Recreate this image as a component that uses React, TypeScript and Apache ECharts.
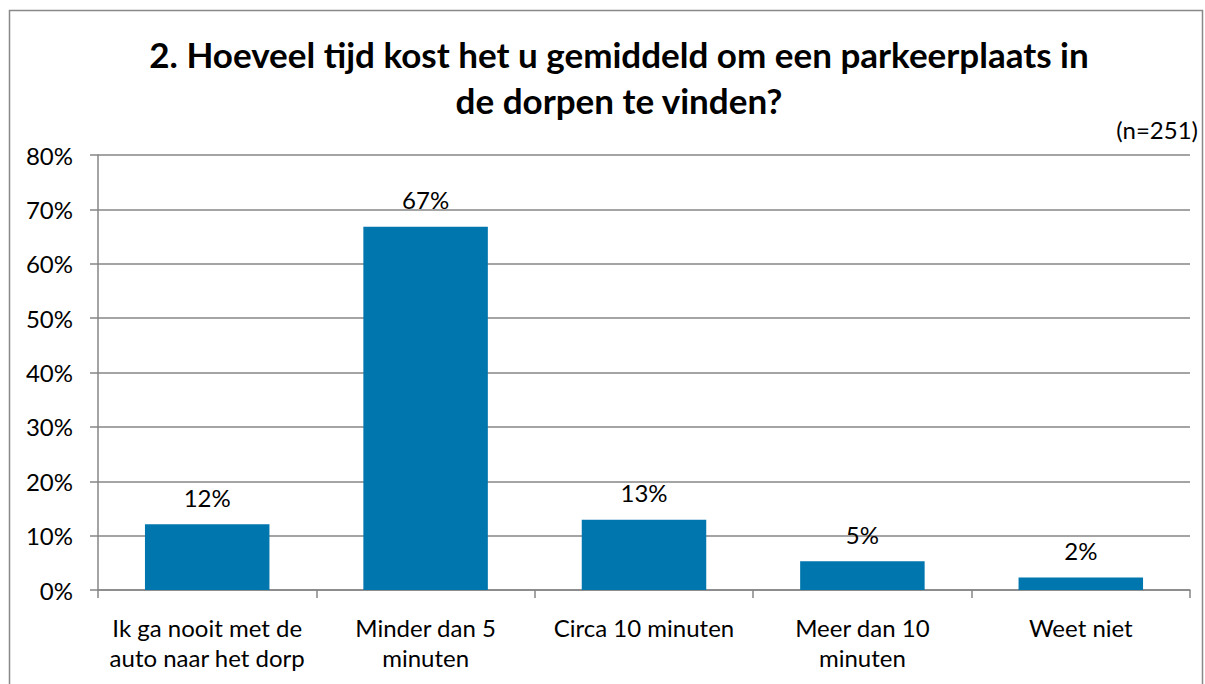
import React, { useEffect, useRef } from "react";
import * as echarts from "echarts";

const categories = [
  "Ik ga nooit met de\nauto naar het dorp",
  "Minder dan 5\nminuten",
  "Circa 10 minuten",
  "Meer dan 10\nminuten",
  "Weet niet",
];
const values = [12.1, 66.8, 12.9, 5.3, 2.3];
const valueLabels = ["12%", "67%", "13%", "5%", "2%"];
const titleText = "2. Hoeveel tijd kost het u gemiddeld om een parkeerplaats in\nde dorpen te vinden?";
const noteText = "(n=251)";

const FONT = "Lato, 'Noto Sans', sans-serif";

export default function App() {
  const ref = useRef<HTMLDivElement>(null);
  useEffect(() => {
    const chart = echarts.init(ref.current!, undefined, { renderer: "svg" });
    chart.setOption({
      animation: false,
      backgroundColor: "#ffffff",
      title: {
        text: titleText,
        left: 614,
        top: 26,
        textAlign: "center",
        textStyle: {
          fontFamily: FONT,
          fontWeight: "bold",
          fontSize: 35,
          lineHeight: 46,
          color: "#000000",
        },
      },
      graphic: [
        {
          type: "rect",
          shape: { x: 9.5, y: 10.5, width: 1193, height: 720 },
          style: { fill: "none", stroke: "#898989", lineWidth: 1.5 },
          silent: true,
        },
        {
          type: "text",
          right: 7,
          top: 117,
          style: { text: noteText, fontFamily: FONT, fontSize: 24, fill: "#000000" },
        },
      ],
      grid: { left: 98, right: 15, top: 155, bottom: 94, containLabel: false },
      xAxis: {
        type: "category",
        data: categories,
        axisLine: { lineStyle: { color: "#868686", width: 1.5 } },
        axisTick: { show: true, length: 8, lineStyle: { color: "#868686", width: 1.5 } },
        axisLabel: {
          fontFamily: FONT,
          fontSize: 24,
          color: "#000000",
          lineHeight: 30,
          margin: 22,
          interval: 0,
        },
      },
      yAxis: {
        type: "value",
        min: 0,
        max: 80,
        interval: 10,
        axisLine: { show: true, lineStyle: { color: "#868686", width: 1.5 } },
        axisTick: { show: true, length: 8, lineStyle: { color: "#868686", width: 1.5 } },
        splitLine: { lineStyle: { color: "#868686", width: 1.5 } },
        axisLabel: {
          formatter: "{value}%",
          fontFamily: FONT,
          fontSize: 24,
          color: "#000000",
          margin: 25,
        },
      },
      series: [
        {
          type: "bar",
          data: values,
          barWidth: "57%",
          itemStyle: { color: "#0076AE" },
          label: {
            show: true,
            position: "top",
            distance: 15,
            fontFamily: FONT,
            fontSize: 24,
            color: "#000000",
            formatter: (p: any) => valueLabels[p.dataIndex],
          },
        },
      ],
    });
    return () => chart.dispose();
  }, []);
  return (
    <div
      ref={ref}
      style={{ position: "absolute", left: 0, top: 0, width: 1205, height: 684 }}
    />
  );
}
